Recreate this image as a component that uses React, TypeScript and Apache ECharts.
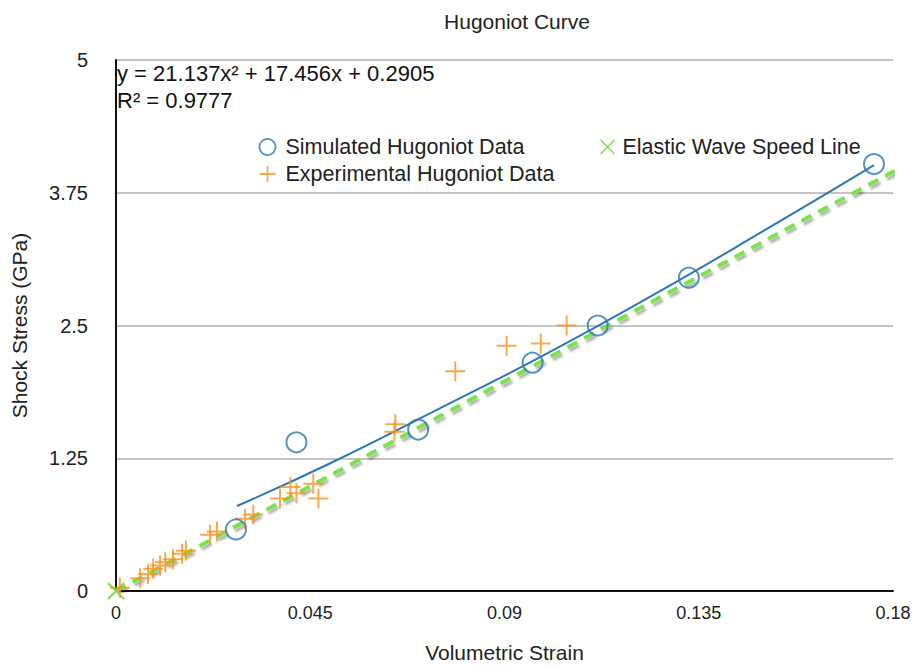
import React, { useEffect, useRef } from "react";
import * as echarts from "echarts";

const xTicks = [0, 0.045, 0.09, 0.135, 0.18];
const yTicks = [0, 1.25, 2.5, 3.75, 5];

const simulated: [number, number][] = [
  [0.0278, 0.58],
  [0.0418, 1.4],
  [0.07, 1.52],
  [0.0965, 2.15],
  [0.1116, 2.5],
  [0.1327, 2.95],
  [0.1756, 4.02],
];

const experimental: [number, number][] = [
  [0.0009, 0.03],
  [0.0056, 0.12],
  [0.0074, 0.16],
  [0.0086, 0.21],
  [0.0102, 0.24],
  [0.0114, 0.27],
  [0.0132, 0.3],
  [0.0153, 0.35],
  [0.0162, 0.38],
  [0.0218, 0.53],
  [0.0234, 0.56],
  [0.0299, 0.68],
  [0.0318, 0.72],
  [0.038, 0.87],
  [0.0404, 0.98],
  [0.0418, 0.92],
  [0.0469, 0.87],
  [0.0457, 1.01],
  [0.0647, 1.57],
  [0.0645, 1.5],
  [0.0786, 2.07],
  [0.0905, 2.31],
  [0.0984, 2.33],
  [0.1044, 2.5],
];

const elastic: [number, number][] = [
  [0, 0],
  [0.181, 3.97],
];

const trendline: [number, number][] = [
  [0.028, 0.8],
  [0.05, 1.21],
  [0.075, 1.72],
  [0.1, 2.24],
  [0.125, 2.8],
  [0.15, 3.39],
  [0.1756, 4.01],
];

const equationText = "y = 21.137x² + 17.456x + 0.2905";
const r2Text = "R² = 0.9777";

const BLUE = "#2b78b5";
const ORANGE = "#f7931e";
const GREEN = "#7ce24c";
const FONT = "Liberation Sans";

const PLUS = "path://M0,5 L10,5 M5,0 L5,10";
const CROSS = "path://M0,0 L10,10 M10,0 L0,10";

export default function App() {
  const ref = useRef<HTMLDivElement>(null);
  useEffect(() => {
    document.body.style.margin = "0";
    const chart = echarts.init(ref.current!, undefined, { renderer: "svg" });
    const fmt = (v: number) => String(+v.toFixed(3));
    chart.setOption({
      animation: false,
      backgroundColor: "#ffffff",
      textStyle: { fontFamily: FONT },
      title: {
        text: "Hugoniot Curve",
        left: 512,
        textAlign: "center",
        top: 6,
        textStyle: { fontFamily: FONT, fontSize: 21, fontWeight: "normal", color: "#222" },
      },
      grid: { left: 116, right: 25, top: 60, bottom: 73, containLabel: false },
      legend: [
        {
          orient: "vertical",
          left: 252,
          top: 131,
          itemGap: 5,
          itemWidth: 26,
          itemHeight: 16,
          textStyle: { fontFamily: FONT, fontSize: 21.5, color: "#222" },
          data: [
            {
              name: "Simulated Hugoniot Data",
              icon: "circle",
              itemStyle: { color: "rgba(0,0,0,0)", borderColor: BLUE, borderWidth: 1.8 },
            },
            {
              name: "Experimental Hugoniot Data",
              icon: PLUS,
              itemStyle: { color: "none", borderColor: ORANGE, borderWidth: 1.8 },
            },
          ],
        },
        {
          orient: "vertical",
          left: 593,
          top: 131,
          itemWidth: 20,
          itemHeight: 14,
          textStyle: { fontFamily: FONT, fontSize: 21.5, color: "#222" },
          data: [
            {
              name: "Elastic Wave Speed Line",
              icon: CROSS,
              itemStyle: { color: "none", borderColor: GREEN, borderWidth: 1.5 },
            },
          ],
        },
      ],
      xAxis: {
        type: "value",
        min: 0,
        max: 0.18,
        interval: 0.045,
        name: "Volumetric Strain",
        nameLocation: "middle",
        nameGap: 51,
        nameTextStyle: { fontFamily: FONT, fontSize: 21, color: "#222" },
        axisLine: { show: true, lineStyle: { color: "#111", width: 2 } },
        axisTick: { show: false },
        splitLine: { show: false },
        axisLabel: {
          formatter: fmt,
          fontFamily: FONT,
          fontSize: 18,
          color: "#222",
          margin: 13,
          customValues: xTicks,
        },
      },
      yAxis: {
        type: "value",
        min: 0,
        max: 5,
        interval: 1.25,
        name: "Shock Stress (GPa)",
        nameLocation: "middle",
        nameGap: 86,
        nameTextStyle: { fontFamily: FONT, fontSize: 21, color: "#222" },
        axisLine: { show: true, onZero: false, lineStyle: { color: "#111", width: 2 } },
        axisTick: { show: false },
        splitLine: { show: true, lineStyle: { color: "#c4c4c4", width: 2 } },
        axisLabel: {
          formatter: fmt,
          fontFamily: FONT,
          fontSize: 20,
          color: "#222",
          margin: 28,
          customValues: yTicks,
        },
      },
      graphic: [
        {
          type: "text",
          left: 117,
          top: 62,
          style: { text: equationText, fontFamily: FONT, fontSize: 22, fill: "#111" },
        },
        {
          type: "text",
          left: 117,
          top: 89,
          style: { text: r2Text, fontFamily: FONT, fontSize: 22, fill: "#111" },
        },
      ],
      series: [
        {
          name: "Elastic Wave Speed Line",
          type: "line",
          data: elastic,
          symbol: CROSS,
          symbolSize: 16,
          showAllSymbol: true,
          itemStyle: { color: "none", borderColor: GREEN, borderWidth: 2 },
          lineStyle: {
            color: GREEN,
            width: 4,
            type: [11, 8],
            shadowColor: "rgba(0,0,0,0.3)",
            shadowBlur: 2,
            shadowOffsetX: 2,
            shadowOffsetY: 3,
          },
          z: 2,
        },
        {
          name: "Trendline",
          type: "line",
          data: trendline,
          smooth: true,
          showSymbol: false,
          symbol: "none",
          lineStyle: { color: BLUE, width: 2 },
          z: 3,
        },
        {
          name: "Experimental Hugoniot Data",
          type: "scatter",
          data: experimental,
          symbol: PLUS,
          symbolSize: 20,
          itemStyle: { color: "none", borderColor: ORANGE, borderWidth: 2 },
          z: 4,
        },
        {
          name: "Simulated Hugoniot Data",
          type: "scatter",
          data: simulated,
          symbol: "circle",
          symbolSize: 20,
          itemStyle: { color: "rgba(0,0,0,0)", borderColor: BLUE, borderWidth: 2 },
          z: 5,
        },
      ],
    });
    return () => chart.dispose();
  }, []);
  return <div ref={ref} style={{ width: 918, height: 668 }} />;
}
